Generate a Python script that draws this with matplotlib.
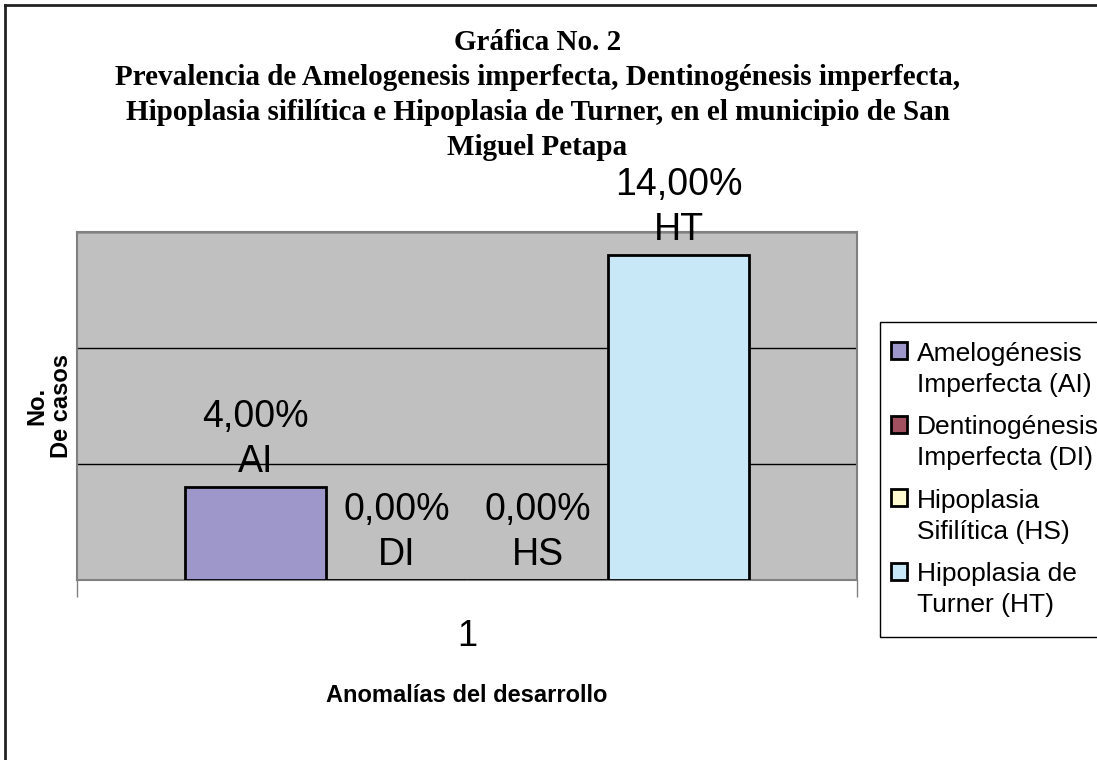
import matplotlib.pyplot as plt
import numpy as np
from matplotlib.lines import Line2D
from matplotlib.patches import Rectangle
from matplotlib.legend_handler import HandlerPatch

# datos
codigos = ["AI", "DI", "HS", "HT"]
nombres = ["Amelogénesis\nImperfecta (AI)", "Dentinogénesis\nImperfecta (DI)",
           "Hipoplasia\nSifilítica (HS)", "Hipoplasia de\nTurner (HT)"]
valores = [0.04, 0.0, 0.0, 0.14]
etiquetas = ["4,00%", "0,00%", "0,00%", "14,00%"]
colores = ["#9e98ca", "#a0505f", "#fffcd0", "#c8e8f8"]
categoria = ["1"]

titulo = ("Gráfica No. 2\n"
          "Prevalencia de Amelogenesis imperfecta, Dentinogénesis imperfecta,\n"
          "Hipoplasia sifilítica e Hipoplasia de Turner, en el municipio de San\n"
          "Miguel Petapa")

sans = ["Liberation Sans", "DejaVu Sans"]
serif = ["Liberation Serif", "DejaVu Serif"]


def cuadro_arriba(legend, orig_handle, xdescent, ydescent, width, height, fontsize):
    # cuadrito alineado con la primera linea del texto
    return Rectangle((-xdescent - 0.33 * fontsize, -ydescent + 0.71 * fontsize),
                     width, height)


fig = plt.figure(figsize=(10.97, 7.60), dpi=100)
ax = fig.add_axes([77 / 1097, 180 / 760, 780 / 1097, 348 / 760])
ax.set_facecolor("#c0c0c0")

ancho = 0.181
x = np.arange(len(valores))
pos = (x - 1.5) * ancho
barras = ax.bar(pos, valores, width=ancho, color=colores, edgecolor="black",
                linewidth=2, zorder=3)

for b, v, et, cod in zip(barras, valores, etiquetas, codigos):
    ax.annotate(et + "\n" + cod, (b.get_x() + b.get_width() / 2, v),
                xytext=(0, 7), textcoords="offset pixels",
                ha="center", va="bottom", fontsize=27, family=sans,
                linespacing=1.32, zorder=4, annotation_clip=False)

ax.set_xlim(-0.5, 0.5)
ax.set_ylim(0, 0.15)
ax.set_yticks([0.05, 0.10, 0.15])
ax.set_yticklabels([])
ax.tick_params(axis="y", length=0)
ax.grid(axis="y", color="black", linewidth=1, zorder=1)

ax.set_xticks([0])
ax.set_xticklabels(categoria, fontsize=26, family=sans)
ax.set_xticks([-0.5, 0.5], minor=True)
ax.tick_params(axis="x", which="major", length=0, pad=28)
ax.tick_params(axis="x", which="minor", length=12, color="#808080", width=1)

for s in ax.spines.values():
    s.set_color("#808080")
    s.set_linewidth(1.5)

ax.set_xlabel("Anomalías del desarrollo", fontsize=17, fontweight="bold",
              family=sans, labelpad=22)
ax.set_ylabel("No.\nDe casos", fontsize=17, fontweight="bold", family=sans,
              multialignment="center", linespacing=1.1)
ax.yaxis.set_label_coords(-0.005, 0.5)

fig.text(0.49, 0.962, titulo, ha="center", va="top", fontsize=21,
         fontweight="bold", family=serif, linespacing=1.39)

handles = [Rectangle((0, 0), 1, 1, facecolor=c, edgecolor="black", linewidth=2)
           for c in colores]
leg = fig.legend(handles, nombres, loc="upper left",
                 bbox_to_anchor=(880 / 1097, 1 - 322 / 760),
                 prop={"family": sans, "size": 19}, frameon=True,
                 fancybox=False, framealpha=1, edgecolor="black",
                 borderaxespad=0, borderpad=0.75, handlelength=0.6,
                 handleheight=0.6, handletextpad=0.05, labelspacing=0.69,
                 handler_map={Rectangle: HandlerPatch(patch_func=cuadro_arriba)})
leg.get_frame().set_linewidth(1)
for t in leg.get_texts():
    t.set_linespacing(1.38)

# borde de la figura (arriba e izquierda)
fig.add_artist(Line2D([5 / 1097, 5 / 1097], [0, 1 - 5 / 760], color="#222222",
                      linewidth=2, transform=fig.transFigure))
fig.add_artist(Line2D([5 / 1097, 1], [1 - 5 / 760, 1 - 5 / 760], color="#222222",
                      linewidth=2, transform=fig.transFigure))

fig.savefig("out.png", dpi=100)
